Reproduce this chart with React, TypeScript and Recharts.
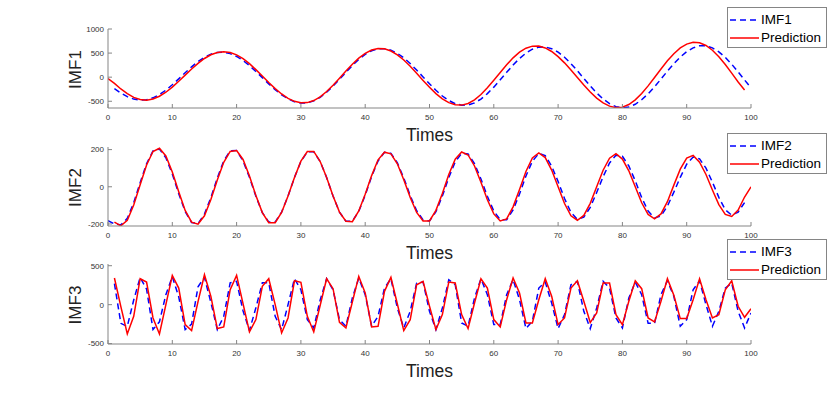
import React from 'react';
import { LineChart, Line, XAxis, YAxis, Legend } from 'recharts';

const FONT = '"Liberation Sans", Arial, Helvetica, sans-serif';

const xTicks = [0, 10, 20, 30, 40, 50, 60, 70, 80, 90, 100];

// IMF1: actual sampled at t = 1..100, prediction at t = 0..99
const imf1Actual = [
  -240, -330, -405, -455, -474,
  -467, -429, -361, -269, -158, -35, 92, 215, 324, 414, 479, 514,
  517, 489, 430, 346, 240, 119, -10, -139, -260, -366, -450, -509, -537,
  -533, -492, -417, -313, -186, -45, 101, 241, 369, 472, 548, 588,
  592, 560, 495, 401, 283, 148, 5, -138, -273, -391, -485, -550, -582,
  -578, -534, -454, -342, -207, -55, 101, 252, 388, 499, 580, 623,
  627, 591, 519, 413, 281, 132, -26, -183, -328, -453, -550, -612, -635,
  -618, -562, -469, -345, -199, -39, 124, 279, 418, 530, 609, 650,
  650, 608, 526, 410, 269, 108, -58, -221,
];
const imf1Pred = [
  -27, -130, -245, -340, -420, -465,
  -477, -452, -396, -313, -207, -86, 42, 169, 287, 388, 465, 513, 530,
  513, 463, 384, 280, 157, 25, -110, -237, -349, -440, -502, -532,
  -528, -485, -407, -298, -167, -22, 127, 270, 396, 496, 564, 596,
  588, 543, 464, 356, 226, 82, -67, -211, -341, -449, -528, -573,
  -580, -546, -470, -359, -220, -64, 99, 258, 401, 519, 601, 644,
  645, 607, 533, 427, 297, 149, -7, -163, -308, -434, -534, -601, -632,
  -622, -567, -470, -338, -181, -8, 170, 339, 488, 606, 686, 724,
  713, 658, 559, 425, 263, 83, -101, -265,
];

// IMF2: actual sampled at t = 0..99, prediction at t = 1..100
const imf2Actual = [
  -182, -200, -205, -170, -86, 22, 124, 193, 203, 156,
  69, -37, -133, -192, -198, -147, -58, 47, 139, 193,
  195, 139, 51, -51, -139, -190, -190, -136, -50, 50,
  136, 188, 188, 136, 50, -50, -136, -185, -185, -132,
  -45, 55, 139, 186, 180, 129, 47, -47, -129, -178,
  -184, -134, -50, 50, 134, 180, 176, 124, 42, -51,
  -131, -177, -177, -125, -39, 58, 138, 179, 168, 111,
  28, -63, -138, -175, -163, -111, -31, 54, 128, 170,
  164, 112, 32, -58, -131, -168, -157, -104, -29, 51,
  121, 160, 150, 100, 25, -57, -124, -153, -136, -85,
];
const imf2Pred = [
  -190, -210, -180, -98, 11, 117, 190, 207, 166, 80,
  -27, -127, -190, -201, -156, -69, 37, 132, 190, 195,
  147, 58, -47, -139, -193, -193, -138, -50, 50, 138,
  190, 190, 136, 50, -50, -136, -185, -188, -130, -40,
  60, 145, 186, 177, 124, 38, -57, -138, -184, -184,
  -127, -36, 66, 148, 187, 171, 112, 24, -70, -146,
  -184, -173, -108, -15, 82, 155, 182, 157, 90, 0,
  -90, -156, -180, -154, -89, 0, 89, 154, 178, 149,
  86, 0, -86, -149, -172, -146, -80, 9, 95, 154,
  169, 132, 66, -17, -96, -149, -160, -125, -55, 0,
];

// IMF3: both sampled at t = 1..100
const imf3Actual = [
  270, -240, -280, 60, 350, 200, -320, -220, 128, 360,
  100, -320, -250, 230, 350, 30, -320, -150, 280, 300,
  -80, -330, -40, 280, 280, -150, -320, 0, 333, 192,
  -192, -300, 60, 333, 192, -192, -277, 85, 340, 128,
  -277, -150, 213, 333, -43, -299, -85, 277, 290, -85,
  -320, -43, 320, 256, -235, -277, 85, 333, 128, -256,
  -256, 128, 320, 64, -307, -213, 213, 290, 21, -307,
  -128, 256, 299, -85, -307, -43, 299, 213, -171, -299,
  85, 290, 128, -240, -240, 128, 307, 107, -277, -192,
  192, 307, 0, -277, -85, 213, 277, -85, -299, -107,
];
const imf3Pred = [
  342, -25, -376, -150, 333, 290, -171, -376, 0, 376,
  213, -256, -333, 40, 384, 107, -307, -286, 192, 376,
  13, -350, -192, 235, 333, 0, -363, -171, 307, 286,
  -150, -350, -8, 333, 205, -226, -299, 34, 363, 150,
  -286, -278, 171, 350, 8, -333, -192, 256, 299, -20,
  -320, -128, 290, 278, -128, -307, 21, 333, 213, -192,
  -286, 64, 342, 150, -235, -235, 64, 333, 107, -256,
  -171, 213, 307, 43, -230, -107, 278, 278, -128, -256,
  43, 307, 205, -171, -222, 43, 333, 120, -179, -179,
  64, 333, 64, -171, -128, 192, 307, -21, -162, -51,
];

function buildRows(actual: number[], actualStart: number, pred: number[], predStart: number) {
  const rows: { t: number; actual: number | null; pred: number | null }[] = [];
  for (let t = 0; t <= 100; t++) {
    const a = actual[t - actualStart];
    const p = pred[t - predStart];
    rows.push({ t, actual: a === undefined ? null : a, pred: p === undefined ? null : p });
  }
  return rows;
}

const AXIS = '#858585';
const TICK = { fontSize: 8, fill: '#333', fontFamily: FONT };

const renderLegend = (props: any) => {
  const payload = props.payload || [];
  return (
    <div
      style={{
        border: `1px solid ${AXIS}`,
        background: '#fff',
        width: 100,
        height: 41,
        boxSizing: 'border-box',
        padding: '3px 0 0 2px',
        fontFamily: FONT,
        fontSize: 13.5,
        color: '#000',
      }}
    >
      {payload.map((entry: any, i: number) => (
        <div key={entry.value} style={{ display: 'flex', alignItems: 'center', height: 18 }}>
          <svg width={30} height={10} style={{ display: 'block' }}>
            <line
              x1={0}
              y1={5}
              x2={29}
              y2={5}
              stroke={entry.color}
              strokeWidth={1.5}
              strokeDasharray={i === 0 ? '6 4' : undefined}
            />
          </svg>
          <span style={{ marginLeft: 1, lineHeight: '18px' }}>{entry.value}</span>
        </div>
      ))}
    </div>
  );
};

interface PanelProps {
  data: { t: number; actual: number | null; pred: number | null }[];
  name: string;
  domain: [number, number];
  yTicks: number[];
  plotTop: number;
  plotBottom: number;
  legendTop: number;
}

function Panel({ data, name, domain, yTicks, plotTop, plotBottom, legendTop }: PanelProps) {
  const midY = (plotTop + plotBottom) / 2 + 1;
  return (
    <div style={{ position: 'absolute', left: 0, top: 0 }}>
      <LineChart
        width={830}
        height={393}
        data={data}
        margin={{ top: plotTop, right: 79, bottom: 393 - plotBottom - 30, left: 68 }}
      >
        <XAxis
          xAxisId="b"
          dataKey="t"
          type="number"
          domain={[0, 100]}
          ticks={xTicks}
          interval={0}
          height={30}
          tickSize={-4}
          tickMargin={10}
          tick={TICK}
          stroke={AXIS}
          allowDataOverflow
          label={{
            content: () => (
              <text x={429.5} y={plotBottom + 33} textAnchor="middle" fontSize={17.5} fontFamily={FONT} fill="#222">
                Times
              </text>
            ),
          }}
        />
        <XAxis
          xAxisId="top"
          orientation="top"
          dataKey="t"
          type="number"
          domain={[0, 100]}
          ticks={xTicks}
          interval={0}
          height={0}
          tickSize={-4}
          tickFormatter={() => ''}
          stroke={AXIS}
          allowDataOverflow
        />
        <YAxis
          yAxisId="l"
          type="number"
          domain={domain}
          ticks={yTicks}
          interval={0}
          width={40}
          tickSize={-4}
          tickMargin={8}
          tick={TICK}
          stroke={AXIS}
          allowDataOverflow
          label={{
            content: () => (
              <text
                x={81}
                y={midY}
                transform={`rotate(-90, 81, ${midY})`}
                textAnchor="middle"
                fontSize={17}
                fontFamily={FONT}
                fill="#222"
              >
                {name}
              </text>
            ),
          }}
        />
        <YAxis
          yAxisId="r"
          orientation="right"
          type="number"
          domain={domain}
          ticks={yTicks}
          interval={0}
          width={0}
          tickSize={-4}
          tickFormatter={() => ''}
          stroke={AXIS}
          allowDataOverflow
        />
        <Line
          xAxisId="b"
          yAxisId="l"
          type="linear"
          dataKey="actual"
          name={name}
          stroke="#0000ff"
          strokeWidth={1.5}
          strokeDasharray="6 4"
          dot={false}
          activeDot={false}
          isAnimationActive={false}
        />
        <Line
          xAxisId="b"
          yAxisId="l"
          type="linear"
          dataKey="pred"
          name="Prediction"
          stroke="#ff0000"
          strokeWidth={1.5}
          dot={false}
          activeDot={false}
          isAnimationActive={false}
        />
        <Legend
          layout="vertical"
          align="center"
          verticalAlign="middle"
          content={renderLegend}
          wrapperStyle={{ left: 727, top: legendTop, width: 100 }}
        />
      </LineChart>
    </div>
  );
}

export default function App() {
  return (
    <div style={{ position: 'fixed', left: 0, top: 0, width: 830, height: 393, background: '#fff' }}>
      <Panel
        data={buildRows(imf1Actual, 1, imf1Pred, 0)}
        name="IMF1"
        domain={[-640, 1000]}
        yTicks={[-500, 0, 500, 1000]}
        plotTop={29}
        plotBottom={108}
        legendTop={7}
      />
      <Panel
        data={buildRows(imf2Actual, 0, imf2Pred, 1)}
        name="IMF2"
        domain={[-211, 214]}
        yTicks={[-200, 0, 200]}
        plotTop={147}
        plotBottom={226}
        legendTop={133}
      />
      <Panel
        data={buildRows(imf3Actual, 1, imf3Pred, 1)}
        name="IMF3"
        domain={[-505, 522]}
        yTicks={[-500, 0, 500]}
        plotTop={264}
        plotBottom={344}
        legendTop={239}
      />
    </div>
  );
}
